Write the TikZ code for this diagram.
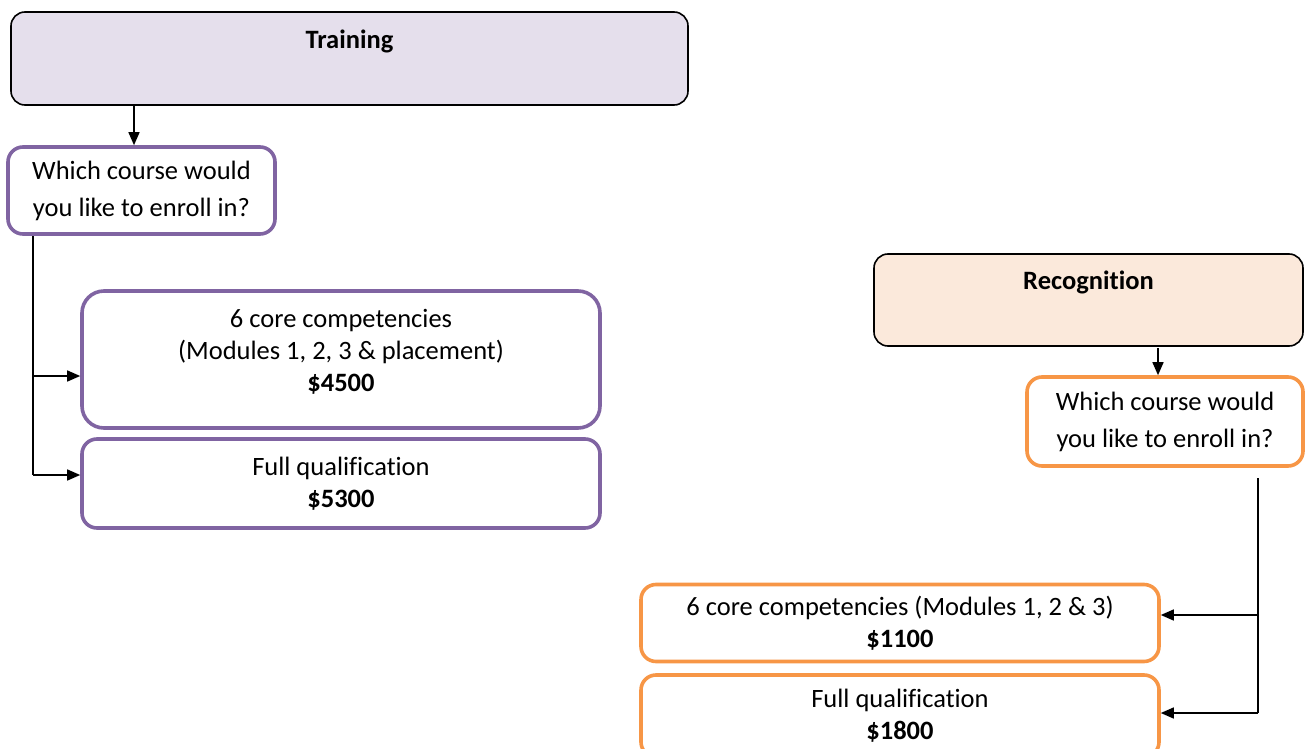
\documentclass[tikz,border=0pt]{standalone}
\usepackage{fontspec}
\setmainfont{Carlito}[Ligatures={NoCommon}]
\usetikzlibrary{arrows.meta}
\definecolor{tpurple}{HTML}{8064A2}
\definecolor{torange}{HTML}{F79646}
\definecolor{tlav}{HTML}{E5DFEC}
\definecolor{tpeach}{HTML}{FBE9DB}
\tikzset{
  hdr/.style={draw=black, line width=1.6pt, rounded corners=14pt},
  pbox/.style={draw=tpurple, line width=3.6pt, rounded corners=15pt, fill=white, align=center, inner sep=0pt, font=\fontsize{26.5}{32}\selectfont},
  obox/.style={draw=torange, line width=3.6pt, rounded corners=15pt, fill=white, align=center, inner sep=0pt, font=\fontsize{26.5}{32}\selectfont},
  qbox/.style={font=\fontsize{26.5}{37}\selectfont},
  htxt/.style={inner sep=0pt, font=\fontsize{26.5}{30}\selectfont\bfseries},
  line/.style={line width=1.5pt},
  conn/.style={line width=1.5pt, -{Triangle[length=13pt,width=11pt]}},
}
\begin{document}
\begin{tikzpicture}[x=1pt,y=-1pt]
\useasboundingbox (0,0) rectangle (1306,749);
% Training side
\node[hdr, fill=tlav, minimum width=677pt, minimum height=93pt] (train) at (349.5,58.5) {};
\node[htxt] (traint) at (349.5,41) {Training};
\node[pbox, qbox, minimum width=267pt, minimum height=87pt] (q1) at (141.5,190.5) {Which course would\\you like to enroll in?};
\node[pbox, rounded corners=22pt, minimum width=518pt, minimum height=137pt, text depth=18pt] (ba) at (341,359.5) {6 core competencies\\(Modules 1, 2, 3 \& placement)\\\textbf{\$4500}};
\node[pbox, minimum width=518pt, minimum height=89pt] (bb) at (341,483.5) {Full qualification\\\textbf{\$5300}};
\draw[conn] ([xshift=-7.5pt]q1.north |- train.south) -- ([xshift=-7.5pt]q1.north);
\coordinate (t0) at (33,236);
\coordinate (ta) at (33,376);
\coordinate (tb) at (33,475);
\draw[line] (t0) -- (tb);
\draw[conn] (ta) -- (ta -| ba.west);
\draw[conn] (tb) -- (tb -| bb.west);
% Recognition side
\node[hdr, fill=tpeach, minimum width=429pt, minimum height=92pt] (rec) at (1088.5,300) {};
\node[htxt] (rect) at (1088.5,282) {Recognition};
\node[obox, qbox, minimum width=276pt, minimum height=89pt] (q2) at (1165,421.5) {Which course would\\you like to enroll in?};
\node[obox, minimum width=518pt, minimum height=77pt] (bc) at (900,623) {6 core competencies (Modules 1, 2 \& 3)\\\textbf{\$1100}};
\node[obox, minimum width=518pt, minimum height=82pt] (bd) at (900,716) {Full qualification\\\textbf{\$1800}};
\coordinate (r1) at (1158,348);
\draw[conn] (r1) -- (r1 |- q2.north);
\coordinate (r0) at (1258,478);
\coordinate (rc) at (1258,615);
\coordinate (rd) at (1258,713);
\draw[line] (r0) -- (rd);
\draw[conn] (rc) -- (rc -| bc.east);
\draw[conn] (rd) -- (rd -| bd.east);
\end{tikzpicture}
\end{document}
